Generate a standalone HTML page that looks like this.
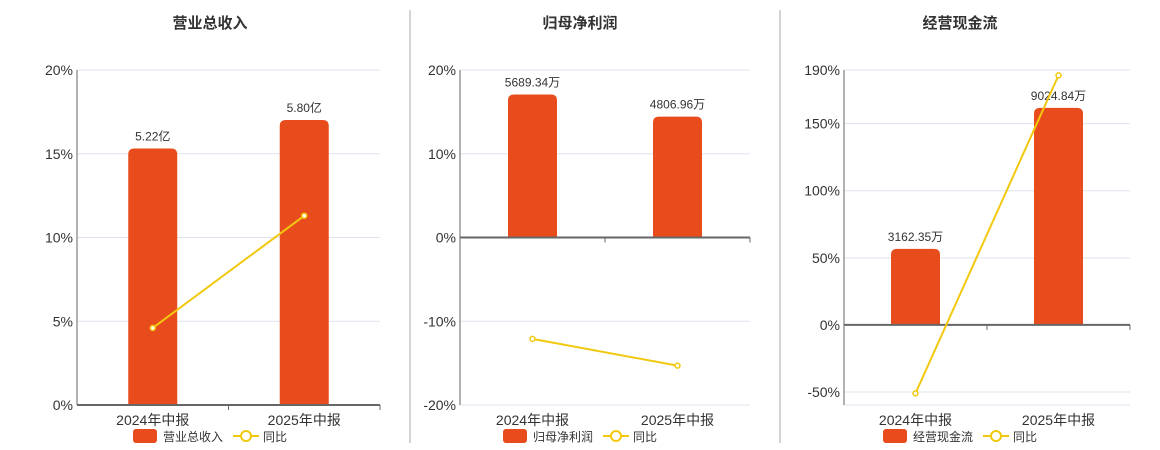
<!DOCTYPE html>
<html><head><meta charset="utf-8">
<style>
body{margin:0;background:#fff;font-family:"Liberation Sans","Noto Sans CJK SC",sans-serif;}
svg{display:block}
</style></head>
<body>
<svg id="chart" width="1160" height="450" xmlns="http://www.w3.org/2000/svg" font-family="Liberation Sans, Noto Sans CJK SC, sans-serif"></svg>
<script>
const categories = ["2024年中报","2025年中报"];
const titles = ["营业总收入","归母净利润","经营现金流"];
const revenueValues = [5.22, 5.80];
const revenueLabels = ["5.22亿","5.80亿"];
const revenueYoy = [4.6, 11.3];
const revenueTicks = [0,5,10,15,20];
const profitValues = [5689.34, 4806.96];
const profitLabels = ["5689.34万","4806.96万"];
const profitYoy = [-12.1, -15.3];
const profitTicks = [-20,-10,0,10,20];
const cashValues = [3162.35, 9024.84];
const cashLabels = ["3162.35万","9024.84万"];
const cashYoy = [-51, 186];
const cashTicks = [-50,0,50,100,150,190];

const NS="http://www.w3.org/2000/svg";
const svgEl=document.getElementById('chart');
function mk(tag,attrs,parent){const e=document.createElementNS(NS,tag);for(const k in attrs)e.setAttribute(k,attrs[k]);(parent||svgEl).appendChild(e);return e;}

const panels=[
 {x0:77,x1:380,tc:210,min:0,max:20,ticks:revenueTicks,vals:revenueValues,labels:revenueLabels,yoy:revenueYoy,barMaxPx:285,barRef:5.80,legend:"营业总收入",legX:133},
 {x0:460,x1:750,tc:580,min:-20,max:20,ticks:profitTicks,vals:profitValues,labels:profitLabels,yoy:profitYoy,barMaxPx:143,barRef:5689.34,legend:"归母净利润",legX:503},
 {x0:844,x1:1130,tc:960,min:-59.7,max:190,ticks:cashTicks,vals:cashValues,labels:cashLabels,yoy:cashYoy,barMaxPx:217,barRef:9024.84,legend:"经营现金流",legX:883}
];
const plotTop=70,plotBottom=405;

[410,780].forEach(x=>{
  const d=mk('line',{x1:x,y1:10,x2:x,y2:443,stroke:'#aaa','stroke-width':1});
  
  
});

panels.forEach((p,pi)=>{
  const g=mk('g',{});
  
  
  const y=v=>plotBottom-(v-p.min)/(p.max-p.min)*(plotBottom-plotTop);
  const bw=(p.x1-p.x0)/categories.length;
  const xc=i=>p.x0+bw*(i+0.5);
  const zeroY=y(Math.max(p.min,0));
  const t=mk('text',{x:p.tc,y:28,'text-anchor':'middle','font-size':15,'font-weight':'bold',fill:'#333'},g);
  t.textContent=titles[pi];
  
  
  p.ticks.forEach(tv=>{
    const gy=y(tv);
    const gl=mk('line',{x1:p.x0,y1:gy,x2:p.x1,y2:gy,stroke:'#dfe3ef','stroke-width':1},g);
    
    
    const tl=mk('text',{x:p.x0-4,y:gy+5,'text-anchor':'end','font-size':14,fill:'#333'},g);
    tl.textContent=tv+'%';
    
    
  });
  if(p.min<0){const bl=mk('line',{x1:p.x0,y1:plotBottom,x2:p.x1,y2:plotBottom,stroke:'#dfe3ef'},g);
    
    }
  const ya=mk('line',{x1:p.x0,y1:plotTop,x2:p.x0,y2:plotBottom,stroke:'#666','stroke-width':1},g);
  
  
  p.vals.forEach((v,i)=>{
    const h=v/p.barRef*p.barMaxPx;
    const b=mk('path',{d:`M${xc(i)-24.5},${zeroY} V${zeroY-h+6} Q${xc(i)-24.5},${zeroY-h} ${xc(i)-18.5},${zeroY-h} H${xc(i)+18.5} Q${xc(i)+24.5},${zeroY-h} ${xc(i)+24.5},${zeroY-h+6} V${zeroY} Z`,fill:'#e84c1d'},g);
    
    
    const lb=mk('text',{x:xc(i),y:zeroY-h-8,'text-anchor':'middle','font-size':12,fill:'#333'},g);
    lb.textContent=p.labels[i];
    
    
    const xl=mk('text',{x:xc(i),y:425,'text-anchor':'middle','font-size':14,fill:'#333'},g);
    xl.textContent=categories[i];
    
    
  });
  const xa=mk('line',{x1:p.x0,y1:zeroY,x2:p.x1,y2:zeroY,stroke:'#666','stroke-width':2},g);
  
  
  [p.x0+bw,p.x1].forEach(tx=>{mk('line',{x1:tx,y1:zeroY,x2:tx,y2:zeroY+5,stroke:'#666'},g);});
  const pts=p.yoy.map((v,i)=>xc(i)+','+y(v)).join(' ');
  const pl=mk('polyline',{points:pts,fill:'none',stroke:'#f2c80f','stroke-width':2},g);
  
  
  p.yoy.forEach((v,i)=>{
    const c=mk('circle',{cx:xc(i),cy:y(v),r:2.5,fill:'#fff',stroke:'#f2c80f','stroke-width':1.5},g);
    
    
  });
  const lg=mk('g',{},g);
  
  
  mk('rect',{x:p.legX,y:429,width:24,height:14,rx:3,fill:'#e84c1d'},lg);
  const lt=mk('text',{x:p.legX+30,y:441,'font-size':12,fill:'#333'},lg);
  lt.textContent=p.legend;
  
  
  const lx=p.legX+30+p.legend.length*12+10;
  mk('line',{x1:lx,y1:436,x2:lx+26,y2:436,stroke:'#f2c80f','stroke-width':2},lg);
  mk('circle',{cx:lx+13,cy:436,r:5,fill:'#fff',stroke:'#f2c80f','stroke-width':2},lg);
  const lt2=mk('text',{x:lx+30,y:441,'font-size':12,fill:'#333'},lg);
  lt2.textContent='同比';
  
  
});
</script>
</body></html>
